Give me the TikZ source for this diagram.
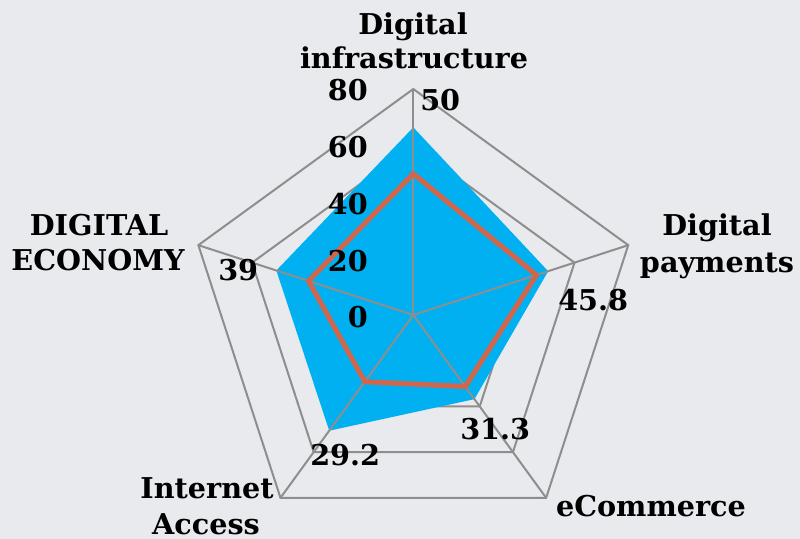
\documentclass[tikz,border=0pt]{standalone}
\usepackage{fontspec}
\setmainfont{DejaVu Serif}
\usetikzlibrary{calc}
\definecolor{bgcol}{RGB}{232,234,237}
\definecolor{gridcol}{RGB}{142,142,142}
\definecolor{areacol}{RGB}{0,176,240}
\definecolor{linecol}{RGB}{208,102,76}
\tikzset{
  gridline/.style={draw=gridcol, line width=1.5pt},
  areafill/.style={fill=areacol, draw=none},
  serieline/.style={draw=linecol, line width=3.8pt},
  lbl/.style={font=\bfseries\fontsize{21.5}{26}\selectfont, inner sep=0pt, anchor=base, text=black},
  ticklbl/.style={lbl, anchor=base east},
  vallbl/.style={lbl, anchor=base west}
}
\begin{document}
\begin{tikzpicture}[x=0.75pt,y=-0.75pt]
\fill[bgcol] (0,0) rectangle (800,539);
\useasboundingbox (0,0) rectangle (800,539);
\coordinate (C) at (413.3,315);
\begin{scope}[shift={(C)}]
  % rings
  \foreach \r in {56.5,113,169.5,226}
    \draw[gridline] (-90:\r) -- (-18:\r) -- (54:\r) -- (126:\r) -- (198:\r) -- cycle;
  % area series
  \path[areafill] (-90:187.6) -- (-18:141.8) -- (54:104) -- (126:143) -- (198:144) -- cycle;
  % spokes
  \coordinate (O) at (0,0);
  \coordinate (v1) at (-90:226);
  \coordinate (v2) at (-18:226);
  \coordinate (v3) at (54:226);
  \coordinate (v4) at (126:226);
  \coordinate (v5) at (198:226);
  \foreach \k in {1,...,5} \draw[gridline] (O) -- (v\k);
  % line series
  \draw[serieline] (-90:141.25) -- (-18:129.4) -- (54:88.4) -- (126:82.5) -- (198:110.2) -- cycle;
\end{scope}
% category labels
\node[lbl] (infra1) at (413,35) {Digital};
\node[lbl] (infra2) at (414,68) {infrastructure};
\node[lbl] (pay1) at (717,235) {Digital};
\node[lbl] (pay2) at (717,272) {payments};
\node[lbl] (econ1) at (99,235) {DIGITAL};
\node[lbl] (econ2) at (98,270) {ECONOMY};
\node[lbl] (ecom) at (651,516) {eCommerce};
\node[lbl] (inet1) at (207,498) {Internet};
\node[lbl] (inet2) at (206,534) {Access};
% axis tick labels
\node[ticklbl] (t80) at (368,100) {80};
\node[ticklbl] (t60) at (368,157) {60};
\node[ticklbl] (t40) at (368,214) {40};
\node[ticklbl] (t20) at (368,271) {20};
\node[ticklbl] (t0) at (368,327) {0};
% value labels
\node[vallbl] (d50) at (420,110) {50};
\node[vallbl] (d458) at (558,310) {45.8};
\node[vallbl] (d313) at (460,439) {31.3};
\node[vallbl] (d292) at (310,465) {29.2};
\node[vallbl] (d39) at (218,280) {39};
\end{tikzpicture}
\end{document}
